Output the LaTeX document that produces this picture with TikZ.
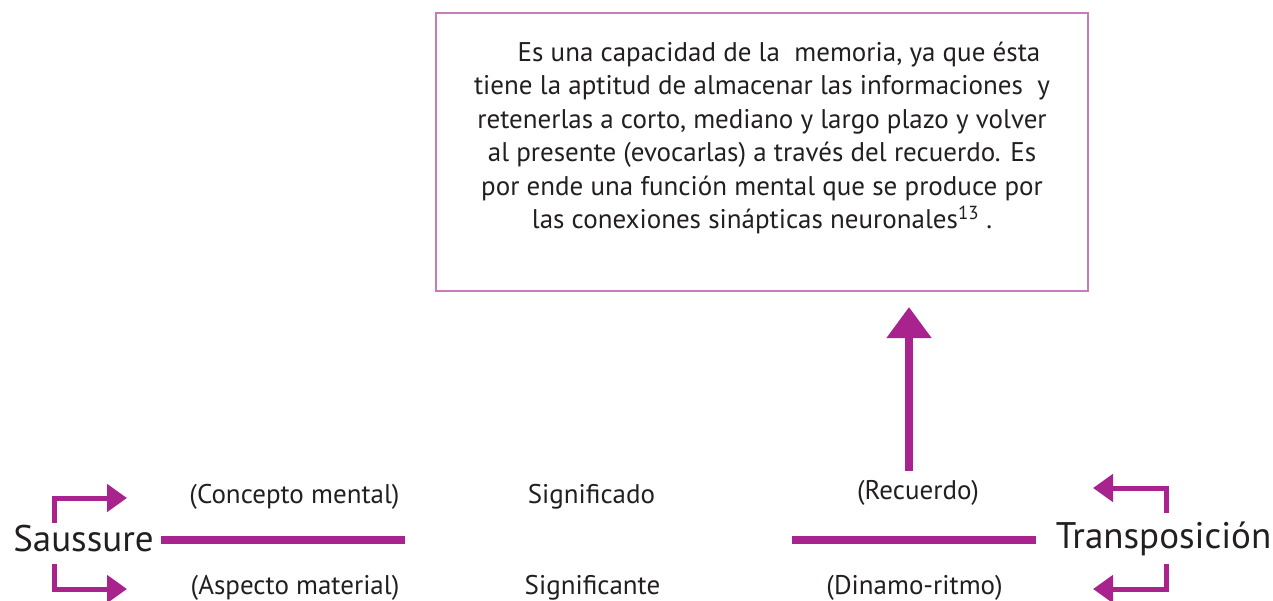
\documentclass[tikz,border=0pt]{standalone}
\usepackage{fontspec}
\setmainfont{PT Sans}
\usetikzlibrary{arrows.meta}
\definecolor{mag}{HTML}{A8238E}
\definecolor{boxc}{HTML}{C77BB9}
\definecolor{txt}{HTML}{231F20}
\tikzset{
  lbl/.style={text=txt, font=\fontsize{27}{30}\selectfont, inner sep=0pt},
  big/.style={text=txt, font=\fontsize{37}{42}\selectfont, inner sep=0pt},
  mainline/.style={draw=mag, line width=8pt},
  brk/.style={draw=mag, line width=5pt, line join=miter, -{Triangle[width=27pt,length=20pt]}},
  uparrow/.style={draw=mag, line width=8pt, -{Triangle[width=43pt,length=31pt]}},
}
\begin{document}
\begin{tikzpicture}[x=1pt,y=-1pt]
\useasboundingbox (0,0) rectangle (1273,601);
% box
\node[draw=boxc, line width=2pt, minimum width=652pt, minimum height=278pt, inner sep=0pt] (box) at (762,152) {};
\node[text=txt, font=\fontsize{27}{33.5}\selectfont, align=center, inner sep=0pt] (boxtext) at (762,138)
 {\hspace*{34pt}Es una capacidad de la\ \ memoria, ya que ésta\\
  tiene la aptitud de almacenar las informaciones\ \ y\\
  retenerlas a corto, mediano y largo plazo y volver\\
  al presente (evocarlas) a través del recuerdo. Es\\
  por ende una función mental que se produce por\\
  las conexiones sinápticas neuronales\textsuperscript{13} .};
% labels
\node[big] (sau) at (83.5,539) {Saussure};
\node[big] (tra) at (1163.5,539) {Transposición};
\node[lbl] (cm) at (294.5,497) {(Concepto mental)};
\node[lbl] (sdo) at (591.5,497) {Significado};
\node[lbl] (rec) at (918,493) {(Recuerdo)};
\node[lbl] (am) at (295,588) {(Aspecto material)};
\node[lbl] (ste) at (592.5,588) {Significante};
\node[lbl] (din) at (914.5,588) {(Dinamo-ritmo)};
% main lines
\coordinate (lA) at (161,540);
\coordinate (lB) at (405,540);
\coordinate (rA) at (792,540);
\coordinate (rB) at (1036,540);
\draw[mainline] (lA) -- (lB);
\draw[mainline] (rA) -- (rB);
% up arrow
\coordinate (upS) at (909,471);
\coordinate (upE) at (909,307);
\draw[uparrow] (upS) -- (upE);
% brackets left
\coordinate (sl1) at (54.5,523);
\coordinate (sl2) at (54.5,564);
\draw[brk] (sl1) |- (127,498);
\draw[brk] (sl2) |- (127,589);
% brackets right
\coordinate (sr1) at (1166.5,513);
\coordinate (sr2) at (1166.5,564);
\draw[brk] (sr1) |- (1093,488);
\draw[brk] (sr2) |- (1093,589);
\end{tikzpicture}
\end{document}
